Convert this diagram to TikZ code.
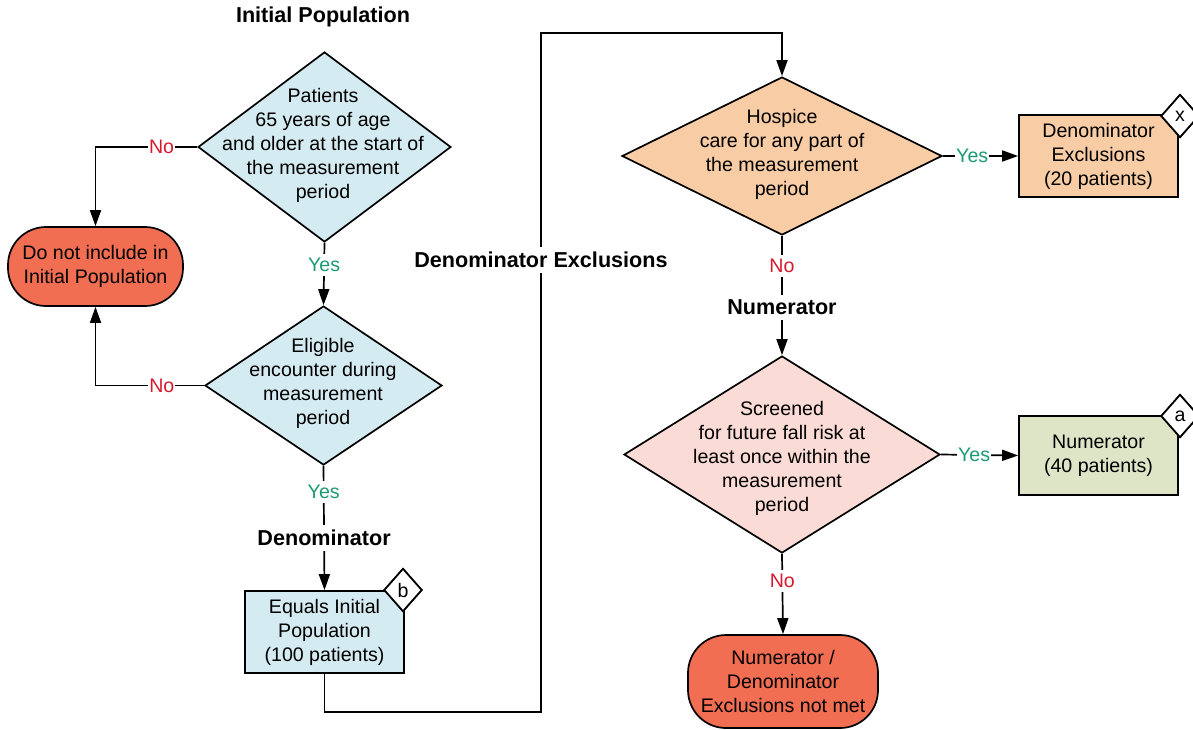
\documentclass[tikz,border=0pt]{standalone}
\usepackage{fontspec}
\setmainfont{Liberation Sans}
\usetikzlibrary{shapes.geometric,arrows.meta}
\definecolor{cblue}{HTML}{D5EBF2}
\definecolor{cred}{HTML}{F26E52}
\definecolor{cpeach}{HTML}{F8CCA4}
\definecolor{cpink}{HTML}{FBDBD5}
\definecolor{cgreen}{HTML}{DDE5C6}
\definecolor{yesgreen}{HTML}{1A9B74}
\definecolor{nored}{HTML}{D7192D}
\tikzset{
  base/.style={font=\fontsize{19.6}{24}\selectfont},
  dia/.style={diamond,draw=black,line width=1.7pt,inner sep=0pt},
  dtext/.style={base,align=center,inner sep=0pt},
  box/.style={rectangle,draw=black,line width=1.7pt,inner sep=0pt,align=center,base},
  term/.style={rectangle,rounded corners=38pt,draw=black,line width=1.7pt,fill=cred,inner sep=0pt,align=center,base},
  tag/.style={diamond,draw=black,line width=1.7pt,fill=white,inner sep=0pt,minimum width=38pt,minimum height=43pt,base},
  conn/.style={draw=black,line width=1.7pt},
  arr/.style={conn,-{Triangle[length=16pt,width=11pt]}},
  yeslbl/.style={base,text=yesgreen,fill=white,inner xsep=1pt,inner ysep=4pt},
  nolbl/.style={base,text=nored,fill=white,inner xsep=1pt,inner ysep=4pt},
  sect/.style={font=\fontsize{21.6}{24}\selectfont\bfseries,fill=white,inner xsep=2pt,inner ysep=5pt},
}
\begin{document}
\begin{tikzpicture}[x=1pt,y=-1pt]
\useasboundingbox (0,0) rectangle (1193,729);

% section title
\node[sect] (tip) at (323,17) {Initial Population};

% diamonds
\node[dia,fill=cblue,minimum width=253pt,minimum height=190pt] (d1) at (324.5,147) {};
\node[dtext] (t1) at (323,145) {Patients\\65 years of age\\and older at the start of\\the measurement\\period};
\node[dia,fill=cblue,minimum width=237pt,minimum height=159pt] (d2) at (323.5,385.5) {};
\node[dtext] (t2) at (323,383) {Eligible\\encounter during\\measurement\\period};
\node[dia,fill=cpeach,minimum width=320pt,minimum height=158pt] (d3) at (782,156) {};
\node[dtext] (t3) at (782,154) {Hospice\\care for any part of\\the measurement\\period};
\node[dia,fill=cpink,minimum width=316pt,minimum height=197pt] (d4) at (782,454.5) {};
\node[dtext] (t4) at (782,458) {Screened\\for future fall risk at\\least once within the\\measurement\\period};

% terminals
\node[term,minimum width=175pt,minimum height=79pt] (r1) at (95.5,266.5) {Do not include in\\Initial Population};
\node[term,minimum width=190pt,minimum height=93pt] (r2) at (783,681.5) {Numerator /\\Denominator\\Exclusions not met};

% boxes
\node[box,fill=cblue,minimum width=159pt,minimum height=82pt] (bb) at (324.5,632) {Equals Initial\\Population\\(100 patients)};
\node[box,fill=cpeach,minimum width=159pt,minimum height=82pt] (bx) at (1098.5,156) {Denominator\\Exclusions\\(20 patients)};
\node[box,fill=cgreen,minimum width=159pt,minimum height=79pt] (ba) at (1098.5,455.5) {Numerator\\(40 patients)};

% tags
\node[tag] (tb) at (403,590) {b};
\node[tag] (tx) at (1180,116) {x};
\node[tag] (ta) at (1180,416) {a};

% corner coordinates
\coordinate (c1) at (541,712);
\coordinate (c2) at (541,33);

% connectors
\draw[arr] (d1.west) -- node[nolbl,pos=0.35] (n1) {No} (r1.north |- d1.west) -- (r1.north);
\draw[arr] (d2.west) -- node[nolbl,pos=0.39] (n2) {No} (r1.south |- d2.west) -- (r1.south);
\draw[arr] (d1.south) -- node[yeslbl,pos=0.36] (y1) {Yes} (d2.north);
\draw[arr] (d2.south) -- node[yeslbl,pos=0.21] (y2) {Yes} node[sect,pos=0.58] (den) {Denominator} (bb.north);
\draw[arr] (bb.south) |- (c1) -- node[sect,pos=0.666] (dex) {Denominator Exclusions} (c2) -| (d3.north);
\draw[arr] (d3.east) -- node[yeslbl,pos=0.39] (y3) {Yes} (bx.west);
\draw[arr] (d3.south) -- node[nolbl,pos=0.25] (n3) {No} node[sect,pos=0.60] (num) {Numerator} (d4.north);
\draw[arr] (d4.east) -- node[yeslbl,pos=0.43] (y4) {Yes} (ba.west);
\draw[arr] (d4.south) -- node[nolbl,pos=0.34] (n4) {No} (r2.north);

% redraw tags on top of boxes
\node[tag] at (tb) {b};
\node[tag] at (tx) {x};
\node[tag] at (ta) {a};
\end{tikzpicture}
\end{document}
